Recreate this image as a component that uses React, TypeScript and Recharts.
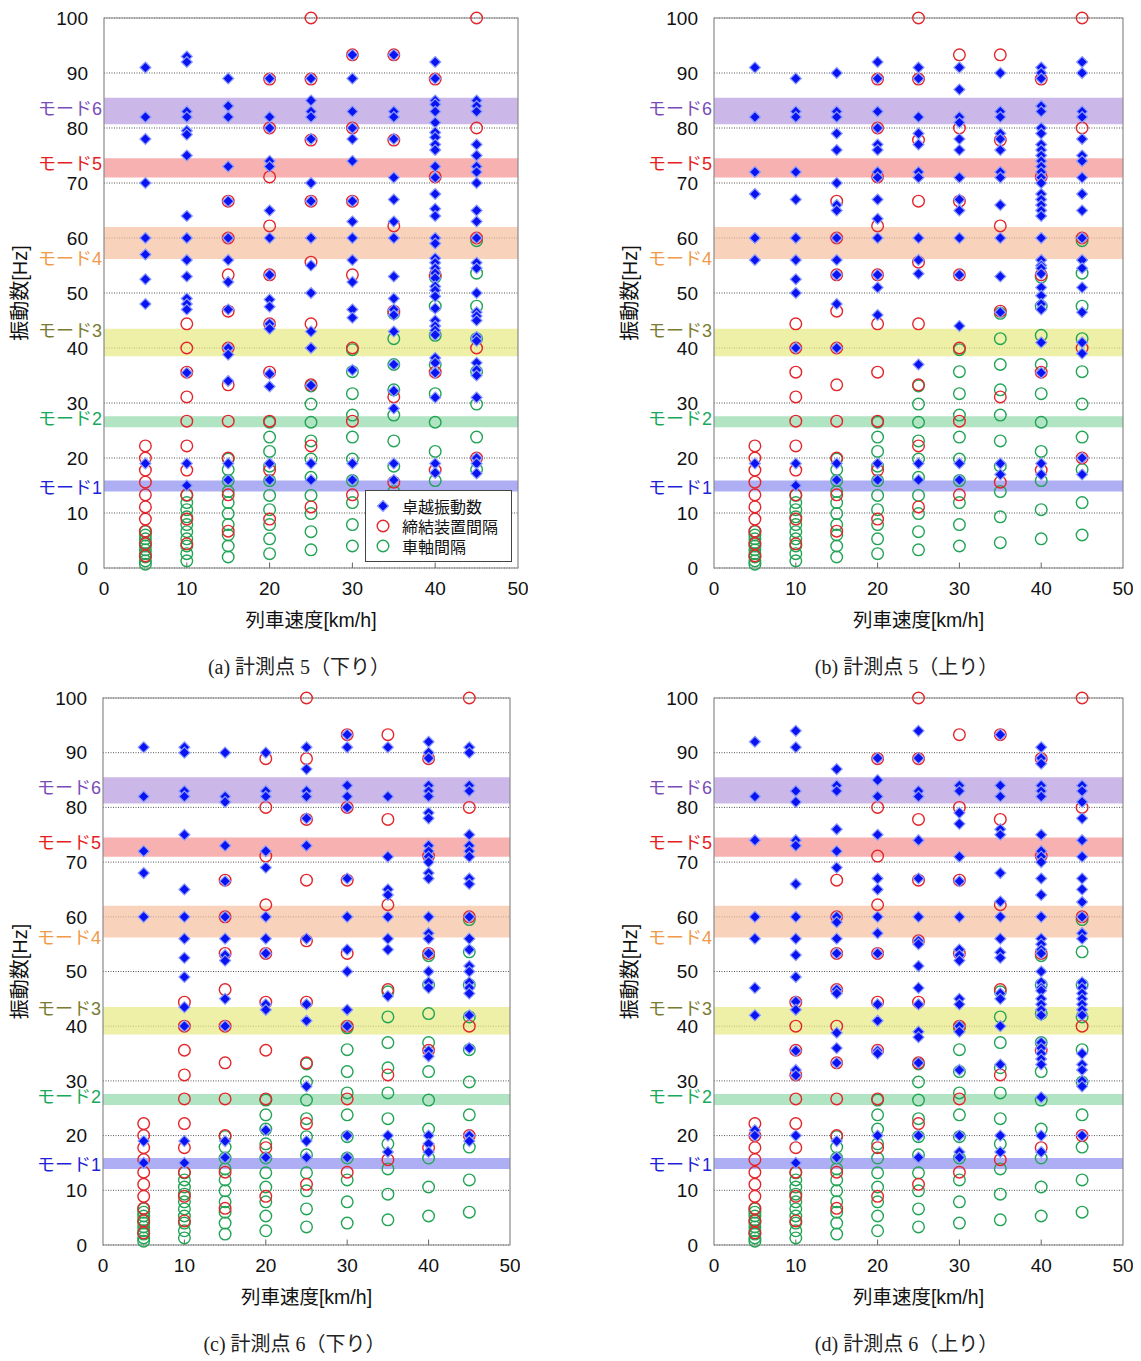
import React from "react";
import {
  ScatterChart,
  Scatter,
  XAxis,
  YAxis,
  CartesianGrid,
  ReferenceArea,
  ReferenceLine,
  Legend,
} from "recharts";

// speeds [km/h]
const speeds = [5, 10, 15, 20, 25, 30, 35, 40, 45];
const xTicks = [0, 10, 20, 30, 40, 50];
const yTicks = [0, 10, 20, 30, 40, 50, 60, 70, 80, 90, 100];
const innerTicks = [10, 20, 30, 40];

// 締結装置間隔 (red), one list per speed
const fasteningHz = [
  [2.2, 4.4, 6.7, 8.9, 11.1, 13.3, 15.6, 17.8, 20.0, 22.2],
  [4.4, 8.9, 13.3, 17.8, 22.2, 26.7, 31.1, 35.6, 40.0, 44.4],
  [6.7, 13.3, 20.0, 26.7, 33.3, 40.0, 46.7, 53.3, 60.0, 66.7],
  [8.9, 17.8, 26.7, 35.6, 44.4, 53.3, 62.2, 71.1, 80.0, 88.9],
  [11.1, 22.2, 33.3, 44.4, 55.6, 66.7, 77.8, 88.9, 100],
  [13.3, 26.7, 40.0, 53.3, 66.7, 80.0, 93.3],
  [15.6, 31.1, 46.7, 62.2, 77.8, 93.3],
  [17.8, 35.6, 53.3, 71.1, 88.9],
  [20, 40, 60, 80, 100],
];

// 車軸間隔 (green), one list per speed
const axleHz = [
  [0.7, 1.3, 2.0, 2.6, 3.3, 4.0, 4.6, 5.3, 6.0, 6.6],
  [1.3, 2.6, 4.0, 5.3, 6.6, 7.9, 9.3, 10.6, 11.9, 13.2],
  [2.0, 4.0, 6.0, 7.9, 9.9, 11.9, 13.9, 15.9, 17.9, 19.8],
  [2.6, 5.3, 7.9, 10.6, 13.2, 15.9, 18.5, 21.2, 23.8, 26.5],
  [3.3, 6.6, 9.9, 13.2, 16.5, 19.8, 23.1, 26.5, 29.8, 33.1],
  [4.0, 7.9, 11.9, 15.9, 19.8, 23.8, 27.8, 31.7, 35.7, 39.7],
  [4.6, 9.3, 13.9, 18.5, 23.1, 27.8, 32.4, 37.0, 41.7, 46.3],
  [5.3, 10.6, 15.9, 21.2, 26.5, 31.7, 37.0, 42.3, 47.6, 52.9],
  [6.0, 11.9, 17.9, 23.8, 29.8, 35.7, 41.7, 47.6, 53.6, 59.5],
];

// 卓越振動数 (blue), per panel, one list per speed
const peaksA = [
  [91, 82, 78, 70, 60, 57, 52.5, 48, 19],
  [93, 92, 83, 82, 79.5, 78.8, 75, 64, 60, 56, 53, 49, 48, 47, 35.5, 19, 15],
  [89, 84, 82, 73, 66.7, 60, 56, 52, 47, 40, 38.8, 34, 19, 16],
  [89, 82, 80, 74, 73, 65, 60, 53.3, 48.8, 47.5, 44.4, 43.5, 35.3, 33, 19, 16],
  [89, 85, 83, 82, 78, 70, 66.7, 60, 55, 50, 43, 40, 33.2, 19, 16],
  [93.3, 89, 83, 80, 78, 74, 66.7, 63, 60, 56, 52, 47, 45.5, 36, 19, 16],
  [93.3, 83, 82, 78, 71, 67, 63, 60, 53, 49, 47, 46, 43, 37, 32.2, 29, 19, 16],
  [92, 89, 85, 84.3, 83, 81, 79.2, 78.3, 77, 76, 73, 71, 68, 65.3, 64, 60, 59, 56.3, 55.5, 54.5, 53.6, 52.7, 51.2, 50.5, 49.4, 47.2, 45, 44, 43.2, 42.4, 38.2, 37.3, 35.5, 31, 19, 17.3],
  [85, 84, 83, 77, 75, 73, 72, 70, 65, 63, 60, 55.5, 54.5, 50, 46.5, 45.8, 45, 42, 41.3, 37.3, 36, 35, 31, 20, 19, 17.2],
];

const peaksB = [
  [91, 82, 72, 68, 60, 56, 19],
  [89, 83, 82, 72, 67, 60, 56, 52.5, 50, 40, 19, 15],
  [90, 83, 82, 79, 76, 70, 66, 65, 60, 56, 53.3, 48, 40, 19, 16],
  [92, 89, 83, 80, 77, 76, 72, 71, 67, 63.5, 60, 53.3, 51, 46, 19, 16],
  [91, 89, 82, 79, 77, 72, 71, 60, 56, 53.5, 37, 19, 16],
  [91, 87, 82, 81, 78, 76, 71, 67, 65, 60, 53.3, 44, 19, 16],
  [90, 83, 82, 79, 78, 76, 72, 71, 66, 60, 53, 46.5, 19, 17],
  [91, 90, 89, 84, 83, 80, 79, 77, 76, 75, 74, 73, 72, 71, 70, 68, 67, 66, 65, 64, 60, 56, 55, 54.5, 53.5, 51, 49.5, 48, 47, 41, 35.5, 19, 17],
  [92, 90, 83, 82, 78, 75, 74, 71, 68, 65, 60, 56, 54.5, 51, 46.5, 41, 39, 20, 17],
];

const peaksC = [
  [91, 82, 72, 68, 60, 19, 15],
  [91, 90, 83, 82, 75, 65, 60, 56, 52.5, 49, 43.5, 40, 19, 15],
  [90, 82, 81, 73, 66.5, 60, 56, 53, 52, 45, 40, 19, 16],
  [90, 83, 82, 72, 69, 60, 56, 53.3, 44, 43, 21, 16],
  [91, 87, 83, 82, 78, 73, 56, 44, 41, 29, 19, 16],
  [93.3, 91, 84, 82, 80, 67, 60, 54, 50, 43, 40, 20, 16],
  [91, 82, 71, 65, 64, 60, 56, 54, 45.5, 20, 17],
  [92, 90, 89, 84, 83, 82, 79, 78, 73, 72, 71, 70, 68, 67, 60, 57, 56, 53.3, 50, 48, 47, 35.5, 34.5, 20, 18.5, 17],
  [91, 90, 84, 83, 75, 73, 72, 71, 67, 66, 60, 56, 54, 51, 50, 48, 47, 46, 42, 36, 20, 19],
];

const peaksD = [
  [92, 82, 74, 60, 56, 47, 42, 21, 20],
  [94, 91, 83, 81, 74, 73, 66, 60, 56, 53, 49, 44.5, 43, 35.5, 32, 31, 20, 15],
  [87, 84, 83, 76, 72, 69, 60, 59, 56, 53.3, 46.7, 46, 38.8, 36, 33.3, 19, 16],
  [89, 85, 82, 75, 67, 65, 60, 57, 53.3, 44, 41, 35.5, 35, 20],
  [94, 89, 83, 82, 74, 67, 60, 55.6, 55, 51, 47, 44, 39, 38, 33.3, 20, 16],
  [84, 83, 79, 77, 71, 66.5, 60, 54, 53, 52, 45, 44, 40, 39, 32, 20, 17, 16],
  [93.3, 84, 82, 76, 75, 68, 62.8, 60, 56, 53.5, 52.5, 46, 45, 40, 33, 20, 17],
  [91, 89, 88, 84, 83, 82, 75, 72, 71, 70, 67, 64, 60, 56, 55, 54, 53.3, 50, 48, 47, 46.5, 45, 44, 43, 42, 37, 36, 35, 34, 33, 27, 20, 17],
  [84, 83, 81, 78, 74, 71, 67, 65, 62.7, 60, 57, 56, 48, 47, 46, 45, 44, 43, 42, 35, 33, 32, 30, 29, 20],
];

// mode bands
const modeNames = ["モード1", "モード2", "モード3", "モード4", "モード5", "モード6"];
const modeLow = [13.9, 25.6, 38.5, 56.2, 71.0, 80.7];
const modeHigh = [15.9, 27.6, 43.5, 62.0, 74.5, 85.5];
const modeLabelHz = [14.7, 27.1, 43.2, 56.2, 73.5, 83.6];
const modeFill = ["#8c8cf0", "#8fd8aa", "#e6ea80", "#f7bf9f", "#f39090", "#b79ade"];
const modeText = ["#1f1fd8", "#1aa85a", "#7a7a30", "#f09a4a", "#e61e1e", "#7a4cb8"];

const seriesNames = ["卓越振動数", "締結装置間隔", "車軸間隔"];

const BLUE = "#0a14f0";
const RED = "#e3262b";
const GREEN = "#22a455";
const SANS = "'Liberation Sans', 'Noto Sans CJK JP', sans-serif";

const toPoints = (lists: number[][]) =>
  lists.flatMap((hz, i) => hz.map((y) => ({ x: speeds[i], y })));

const redPoints = toPoints(fasteningHz);
const greenPoints = toPoints(axleHz);

const Diamond = (p: any) => (
  <path
    d={`M${p.cx},${p.cy - 5.5}L${p.cx + 5.5},${p.cy}L${p.cx},${p.cy + 5.5}L${p.cx - 5.5},${p.cy}Z`}
    fill={BLUE}
    stroke="#8c9cff"
    strokeWidth={1.2}
  />
);

const ring = (color: string) => (p: any) => (
  <circle cx={p.cx} cy={p.cy} r={5.8} fill="none" stroke={color} strokeWidth={1.4} />
);

const LegendBox = () => (
  <div
    style={{
      border: "1px solid #444",
      background: "#fff",
      width: 147,
      height: 72,
      boxSizing: "border-box",
      paddingTop: 5,
      fontFamily: SANS,
      fontSize: 16,
      color: "#111",
    }}
  >
    {seriesNames.map((name, i) => (
      <div key={name} style={{ display: "flex", alignItems: "center", height: 20 }}>
        <svg width={32} height={16}>
          {i === 0 ? (
            <path d="M17,2.5L22.5,8L17,13.5L11.5,8Z" fill={BLUE} stroke="#8c9cff" strokeWidth={1.2} />
          ) : (
            <circle cx={17} cy={8} r={5.8} fill="none" stroke={i === 1 ? RED : GREEN} strokeWidth={1.4} />
          )}
        </svg>
        <span style={{ marginLeft: 4 }}>{name}</span>
      </div>
    ))}
  </div>
);

type PanelProps = {
  peaks: number[][];
  left: number;
  top: number;
  marginLeft: number;
  plotWidth: number;
  plotHeight: number;
  yLabelOffset: number;
  caption: string;
  legend?: boolean;
};

function Panel({ peaks, left, top, marginLeft, plotWidth, plotHeight, yLabelOffset, caption, legend }: PanelProps) {
  const width = marginLeft + 96 + plotWidth + 10;
  const height = 18 + plotHeight + 62 + 4;
  const plotCenter = marginLeft + 96 + plotWidth / 2;
  const tickStyle = { fontSize: 19, fill: "#111", fontFamily: SANS };
  return (
    <div style={{ position: "absolute", left, top }}>
      <ScatterChart width={width} height={height} margin={{ top: 18, right: 10, left: marginLeft, bottom: 4 }}>
        <CartesianGrid vertical={false} stroke="#555" strokeDasharray="1 1.5" />
        {modeNames.map((m, i) => (
          <ReferenceArea
            key={m}
            x1={0}
            x2={50}
            y1={modeLow[i]}
            y2={modeHigh[i]}
            fill={modeFill[i]}
            fillOpacity={0.7}
            stroke="none"
          />
        ))}
        {modeNames.map((m, i) => (
          <ReferenceLine
            key={"l" + m}
            y={modeLabelHz[i]}
            stroke="none"
            label={{ value: m, position: "left", offset: 2, fill: modeText[i], fontSize: 18, fontFamily: SANS }}
          />
        ))}
        {innerTicks.map((t) => (
          <ReferenceLine key={"t" + t} segment={[{ x: t, y: 0 }, { x: t, y: 1 }]} stroke="#666" />
        ))}
        <ReferenceArea x1={0} x2={50} y1={0} y2={100} fill="none" stroke="#8a8a8a" strokeWidth={1.2} />
        <XAxis
          type="number"
          dataKey="x"
          domain={[0, 50]}
          ticks={xTicks}
          tickLine={false}
          axisLine={false}
          tickSize={0}
          tickMargin={14}
          height={62}
          tick={tickStyle}
          label={{ value: "列車速度[km/h]", position: "insideBottom", offset: 3, fontSize: 19.5, fill: "#111", fontFamily: SANS }}
        />
        <YAxis
          type="number"
          dataKey="y"
          domain={[0, 100]}
          ticks={yTicks}
          tickLine={false}
          axisLine={false}
          tickSize={0}
          tickMargin={16}
          width={96}
          tick={tickStyle}
          label={{
            value: "振動数[Hz]",
            angle: -90,
            position: "insideLeft",
            offset: yLabelOffset,
            fontSize: 20,
            fill: "#111",
            fontFamily: SANS,
            style: { textAnchor: "middle" },
          }}
        />
        <Scatter name={seriesNames[2]} data={greenPoints} fill={GREEN} shape={ring(GREEN)} isAnimationActive={false} />
        <Scatter name={seriesNames[1]} data={redPoints} fill={RED} shape={ring(RED)} isAnimationActive={false} />
        <Scatter name={seriesNames[0]} data={toPoints(peaks)} fill={BLUE} shape={Diamond} isAnimationActive={false} />
        {legend && (
          <Legend
            layout="vertical"
            align="center"
            verticalAlign="middle"
            content={LegendBox}
            wrapperStyle={{ left: 365, top: 490, width: 147, height: 72 }}
          />
        )}
      </ScatterChart>
      <div
        style={{
          position: "absolute",
          left: plotCenter - 12 - 200,
          width: 400,
          top: height + 17,
          textAlign: "center",
          fontFamily: "'Liberation Serif', 'Noto Sans CJK JP', serif",
          fontSize: 20,
          color: "#222",
        }}
      >
        {caption}
      </div>
    </div>
  );
}

export default function App() {
  return (
    <div style={{ position: "absolute", left: 0, top: 0, width: 1141, height: 1361, background: "#fff" }}>
      <Panel peaks={peaksA} left={0} top={0} marginLeft={8} plotWidth={414} plotHeight={550} yLabelOffset={12} caption="(a) 計測点 5（下り）" legend />
      <Panel peaks={peaksB} left={610} top={0} marginLeft={8} plotWidth={409} plotHeight={550} yLabelOffset={12} caption="(b) 計測点 5（上り）" />
      <Panel peaks={peaksC} left={0} top={680} marginLeft={7} plotWidth={407} plotHeight={547} yLabelOffset={13} caption="(c) 計測点 6（下り）" />
      <Panel peaks={peaksD} left={610} top={680} marginLeft={8} plotWidth={409} plotHeight={547} yLabelOffset={12} caption="(d) 計測点 6（上り）" />
    </div>
  );
}
